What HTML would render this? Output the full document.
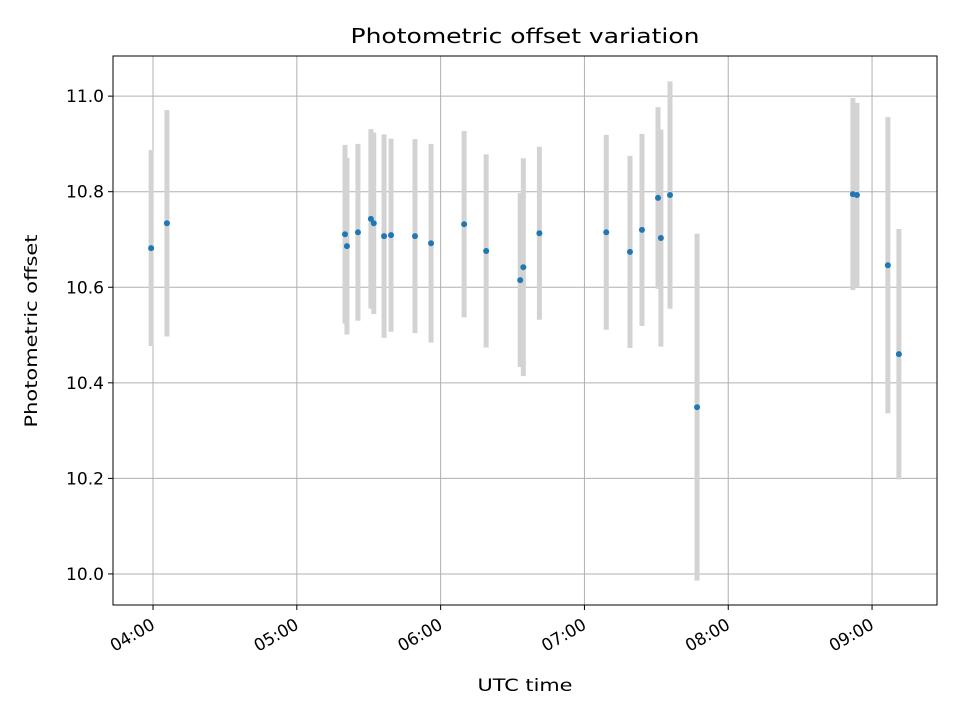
<!DOCTYPE html>
<html><head><meta charset="utf-8"><style>
body{margin:0;background:#fff}
svg text{font-family:"DejaVu Sans","Liberation Sans",sans-serif;fill:#000}
</style></head><body>
<svg id="chart" width="960" height="720" xmlns="http://www.w3.org/2000/svg">
<rect width="960" height="720" fill="#fff"/>
<text x="525" y="43" style="font-size:20px" textLength="349" lengthAdjust="spacingAndGlyphs" text-anchor="middle">Photometric offset variation</text>
<text x="525" y="691" style="font-size:17px" textLength="95" lengthAdjust="spacingAndGlyphs" text-anchor="middle">UTC time</text>
<text transform="translate(37,331) rotate(-90)" style="font-size:17px" textLength="193" lengthAdjust="spacingAndGlyphs" text-anchor="middle">Photometric offset</text>
<g id="grid"></g>
<g id="bars"></g>
<g id="pts"></g>
<g id="axes"></g>
</svg>
<script>
// minutes after 04:00 UTC
const times = [-0.8,5.8,80.1,80.9,85.5,90.9,92.1,96.4,99.3,109.3,116,129.8,139,153.2,154.5,161.2,189.1,199,204,210.7,211.9,215.7,227,292,293.7,306.6,311.2];
const offsets = [10.682,10.734,10.711,10.686,10.715,10.743,10.734,10.707,10.709,10.707,10.692,10.732,10.676,10.615,10.642,10.713,10.715,10.674,10.720,10.787,10.703,10.793,10.349,10.795,10.793,10.646,10.460];
const errors = [0.205,0.237,0.187,0.185,0.185,0.188,0.19,0.213,0.202,0.203,0.208,0.195,0.202,0.182,0.228,0.181,0.204,0.201,0.201,0.190,0.227,0.238,0.363,0.201,0.193,0.310,0.262];
const xTicks = [0,60,120,180,240,300];
const xTickLabels = ["04:00","05:00","06:00","07:00","08:00","09:00"];
const yTicks = [10.0,10.2,10.4,10.6,10.8,11.0];
const yTickLabels = ["10.0","10.2","10.4","10.6","10.8","11.0"];

const L=113,R=937,T=56,B=605;
const xMin=-16.7,xMax=327.1,yMin=9.935,yMax=11.084;
const X=v=>L+(v-xMin)/(xMax-xMin)*(R-L);
const Y=v=>B-(v-yMin)/(yMax-yMin)*(B-T);
const NS="http://www.w3.org/2000/svg";
function mk(tag,attrs,parent){const e=document.createElementNS(NS,tag);for(const k in attrs)e.setAttribute(k,attrs[k]);parent.appendChild(e);return e;}
const grid=document.getElementById('grid'),bars=document.getElementById('bars'),pts=document.getElementById('pts'),axes=document.getElementById('axes');
xTicks.forEach((t,i)=>{
  const x=X(t);
  const g=mk('line',{x1:x,x2:x,y1:T,y2:B,stroke:'#b0b0b0','stroke-width':1},grid);
  
  
  const tk=mk('line',{x1:x,x2:x,y1:B,y2:B+5,stroke:'#000','stroke-width':1},axes);
  
  
  const tx=mk('text',{transform:`translate(${x+3},${B+23}) rotate(-30)`,style:'font-size:17px',textLength:48,lengthAdjust:'spacingAndGlyphs','text-anchor':'end'},axes);
  tx.textContent=xTickLabels[i];
  
  
});
yTicks.forEach((t,i)=>{
  const y=Y(t);
  const g=mk('line',{x1:L,x2:R,y1:y,y2:y,stroke:'#b0b0b0','stroke-width':1},grid);
  
  
  const tk=mk('line',{x1:L-5,x2:L,y1:y,y2:y,stroke:'#000','stroke-width':1},axes);
  
  
  const tx=mk('text',{x:L-9,y:y+6,style:'font-size:17px',textLength:38,lengthAdjust:'spacingAndGlyphs','text-anchor':'end'},axes);
  tx.textContent=yTickLabels[i];
  
  
});
times.forEach((t,i)=>{
  const x=X(t);
  const b=mk('line',{x1:x,x2:x,y1:Y(offsets[i]+errors[i]),y2:Y(offsets[i]-errors[i]),stroke:'#d3d3d3','stroke-width':5},bars);
  
  
  const c=mk('circle',{cx:x,cy:Y(offsets[i]),r:3,fill:'#1f77b4'},pts);
  
  
});
const f=mk('rect',{x:L,y:T,width:R-L,height:B-T,fill:'none',stroke:'#000','stroke-width':1},axes);


</script>
</body></html>
